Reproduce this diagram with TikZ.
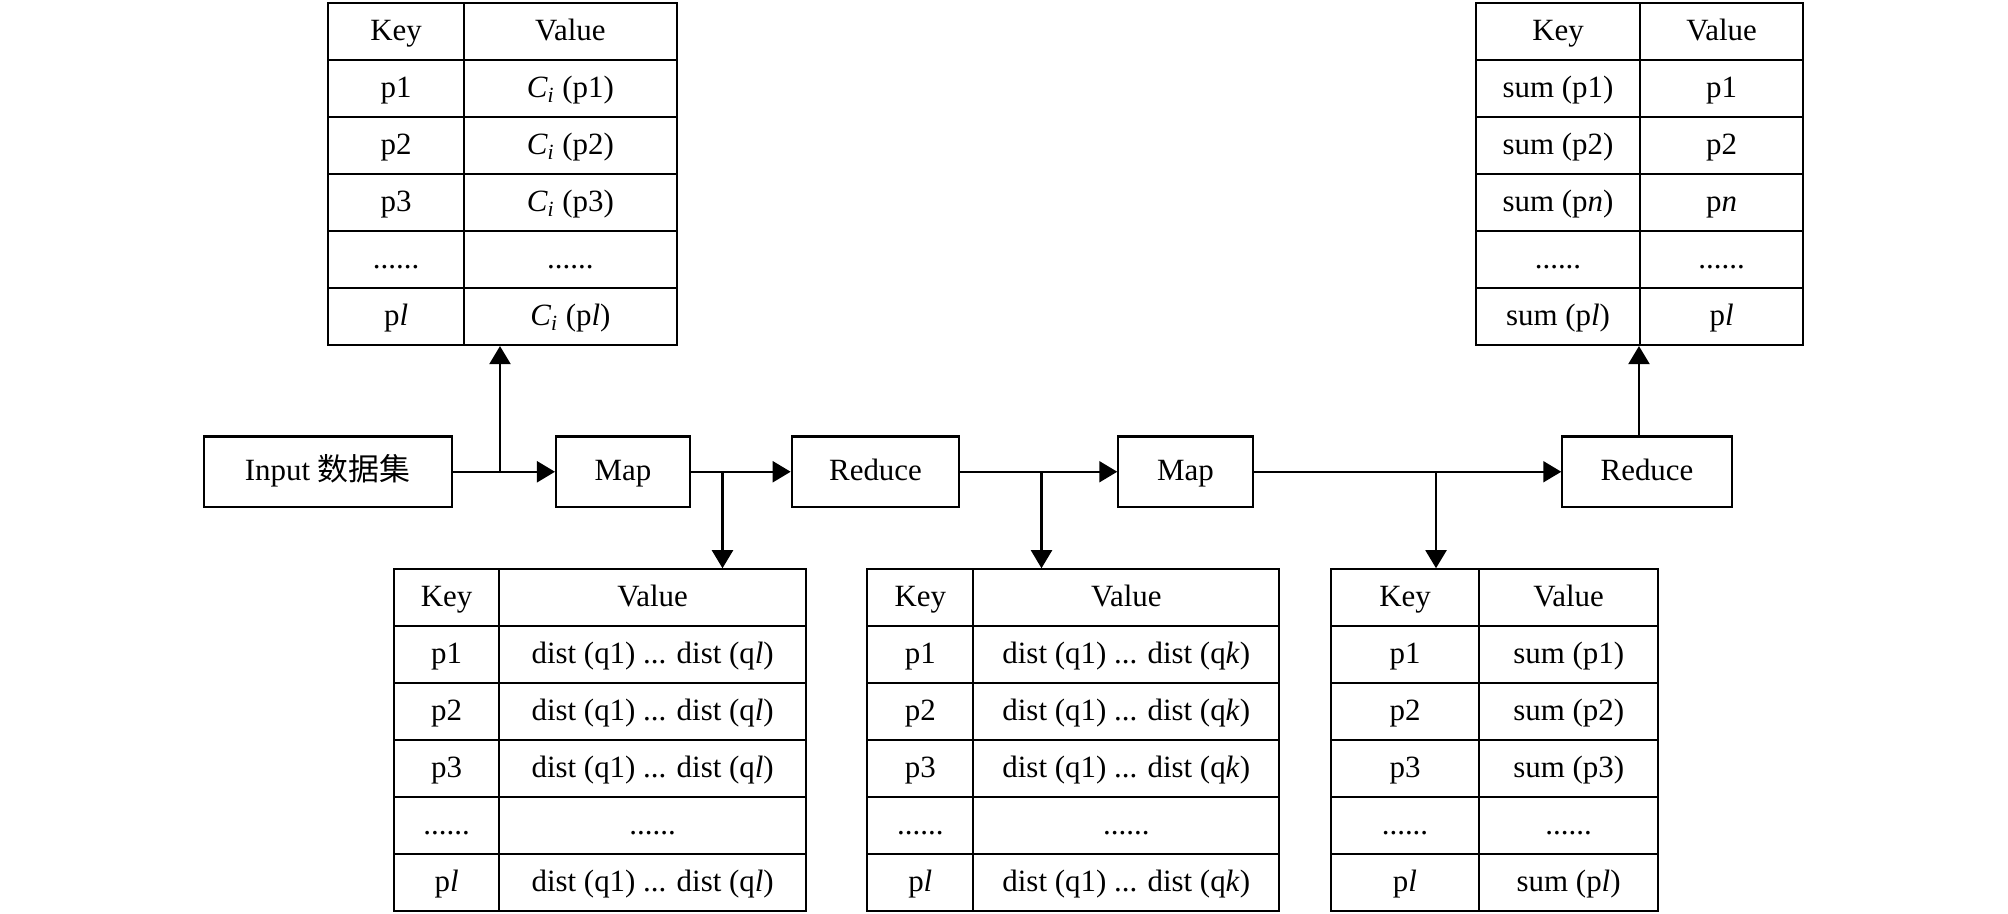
\documentclass[tikz,border=0pt]{standalone}
\usepackage{fontspec}
\setmainfont{Liberation Serif}
\newfontfamily\cjk{Noto Sans CJK SC}
\usetikzlibrary{arrows.meta,positioning}

\newcommand{\sixdots}{......}
\newcommand{\tdots}{...}

\tikzset{
	blk/.style={draw, inner sep=0pt, minimum height=1.41cm, text height=12.7pt, text depth=2.4pt},
	cell/.style={draw, inner sep=0pt, minimum height=1.139cm, text height=12.7pt, text depth=2.4pt},
}

\begin{document}
\begin{tikzpicture}[x=0.02cm, y=-0.02cm, line width=1.2pt, >={Triangle[width=0.42cm,length=0.36cm]}, font=\fontsize{17.6}{20}\selectfont]
	\useasboundingbox (0,0) rectangle (2008,913);
	%blocchi centrali
	\node [blk, minimum width=4.954cm] (input) at (327.8,471.75) {Input {\cjk 数据集}};
	\node [blk, minimum width=2.68cm]  (map1)  at (623,471.75)   {Map};
	\node [blk, minimum width=3.352cm] (red1)  at (875.5,471.75) {Reduce};
	\node [blk, minimum width=2.688cm] (map2)  at (1185.5,471.75) {Map};
	\node [blk, minimum width=3.388cm] (red2)  at (1647,471.75)  {Reduce};
	%tabella in alto a sinistra
	\foreach \k/\v [count=\i from 0] in {Key/Value, p1/{\textit{C}\textsubscript{\textit{i}} (p1)}, p2/{\textit{C}\textsubscript{\textit{i}} (p2)}, p3/{\textit{C}\textsubscript{\textit{i}} (p3)}, \sixdots/\sixdots, p\textit{l}/{\textit{C}\textsubscript{\textit{i}} (p\textit{l})}} {
		\node [cell, minimum width=2.714cm] (tl-k\i) at (396.15,{31.8+56.95*\i}) {\k};
		\node [cell, minimum width=4.254cm] (tl-v\i) at (570.35,{31.8+56.95*\i}) {\v};
	}
	%tabella in alto a destra
	\foreach \k/\v [count=\i from 0] in {Key/Value, sum (p1)/p1, sum (p2)/p2, sum (p\textit{n})/p\textit{n}, \sixdots/\sixdots, sum (p\textit{l})/p\textit{l}} {
		\node [cell, minimum width=3.28cm]  (tr-k\i) at (1558,{31.8+56.95*\i}) {\k};
		\node [cell, minimum width=3.266cm] (tr-v\i) at (1721.65,{31.8+56.95*\i}) {\v};
	}
	%tabelle in basso
	\foreach \k/\v [count=\i from 0] in {Key/Value, p1/dist (q1) \tdots{} dist (q\textit{l}), p2/dist (q1) \tdots{} dist (q\textit{l}), p3/dist (q1) \tdots{} dist (q\textit{l}), \sixdots/\sixdots, p\textit{l}/dist (q1) \tdots{} dist (q\textit{l})} {
		\node [cell, minimum width=2.106cm] (b1-k\i) at (446.65,{597.75+56.9*\i}) {\k};
		\node [cell, minimum width=6.134cm] (b1-v\i) at (652.65,{597.75+56.9*\i}) {\v};
	}
	\foreach \k/\v [count=\i from 0] in {Key/Value, p1/dist (q1) \tdots{} dist (q\textit{k}), p2/dist (q1) \tdots{} dist (q\textit{k}), p3/dist (q1) \tdots{} dist (q\textit{k}), \sixdots/\sixdots, p\textit{l}/dist (q1) \tdots{} dist (q\textit{k})} {
		\node [cell, minimum width=2.12cm] (b2-k\i) at (920.3,{597.75+56.9*\i}) {\k};
		\node [cell, minimum width=6.12cm] (b2-v\i) at (1126.3,{597.75+56.9*\i}) {\v};
	}
	\foreach \k/\v [count=\i from 0] in {Key/Value, p1/sum (p1), p2/sum (p2), p3/sum (p3), \sixdots/\sixdots, p\textit{l}/sum (p\textit{l})} {
		\node [cell, minimum width=2.96cm]  (b3-k\i) at (1405,{597.75+56.9*\i}) {\k};
		\node [cell, minimum width=3.586cm] (b3-v\i) at (1568.65,{597.75+56.9*\i}) {\v};
	}
	%frecce
	\coordinate (j1) at (500,471.75);
	\coordinate (j2) at (722.5,471.75);
	\coordinate (j3) at (1041.5,471.75);
	\coordinate (j4) at (1436,471.75);
	\draw [->] (input) -- (map1);
	\draw [->] (map1) -- (red1);
	\draw [->] (red1) -- (map2);
	\draw [->] (map2) -- (red2);
	\draw [->] (j1) -- (j1 |- tl-v5.south);
	\draw [->] (j2) -- (j2 |- b1-v0.north);
	\draw [->] (j3) -- (j3 |- b2-v0.north);
	\draw [->] (j4) -- (j4 |- b3-k0.north);
	\draw [->] (red2.north -| tr-v5.south west) -- (tr-v5.south west);
\end{tikzpicture}
\end{document}
